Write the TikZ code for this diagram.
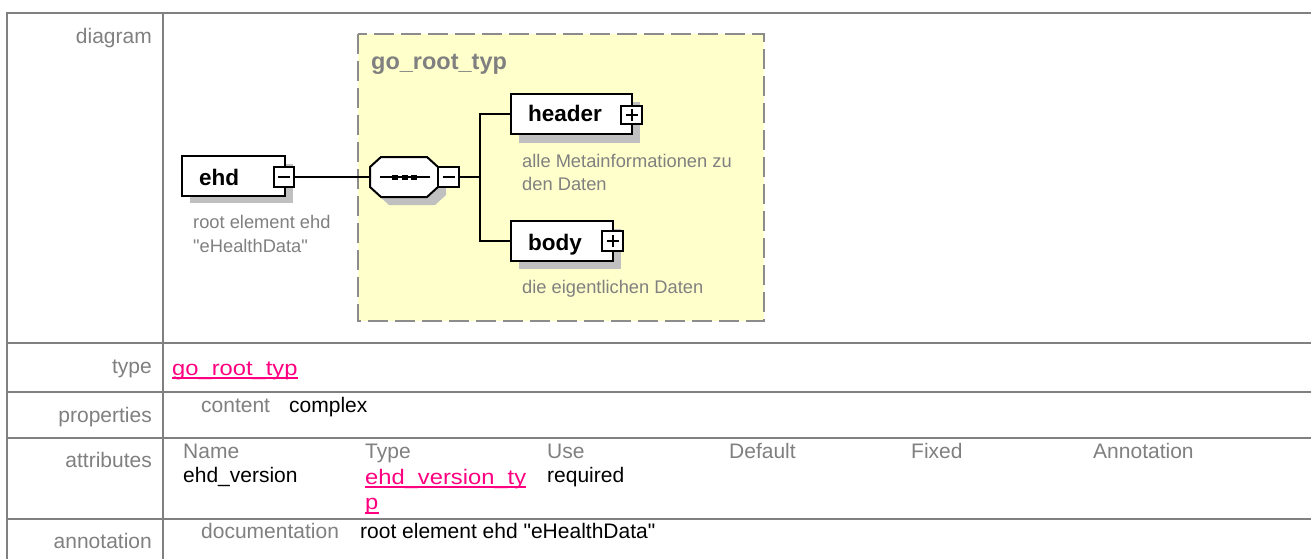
\documentclass[tikz,border=0pt]{standalone}
\usepackage{fontspec}
\setmainfont{Liberation Sans}
\newfontfamily\linkfont[FakeStretch=1.13]{Liberation Sans}
\usetikzlibrary{calc}
\definecolor{tline}{RGB}{128,128,128}
\definecolor{tgray}{RGB}{128,128,128}
\definecolor{tlink}{RGB}{255,0,128}
\definecolor{ylw}{RGB}{255,255,204}
\definecolor{shd}{RGB}{192,192,192}
\definecolor{dgray}{RGB}{140,140,140}
\begin{document}
\begin{tikzpicture}[x=1pt,y=-1pt,
  tabline/.style={draw=tline,line width=2pt,line cap=rect},
  rowlabel/.style={anchor=base east,inner sep=0,text=tgray,font=\fontsize{21}{25}\selectfont},
  graytxt/.style={anchor=base west,inner sep=0,text=tgray,font=\fontsize{21}{25}\selectfont},
  blacktxt/.style={anchor=base west,inner sep=0,text=black,font=\fontsize{21}{25}\selectfont},
  linktxt/.style={anchor=base west,inner sep=0,text=tlink,font=\linkfont\fontsize{21}{25}\selectfont},
  linkline/.style={draw=tlink,line width=1.5pt},
  elbox/.style={draw=black,line width=2pt,fill=white,inner sep=0},
  conn/.style={draw=black,line width=2pt},
  sym/.style={draw=black,line width=2pt},
  elname/.style={anchor=base west,inner sep=0,font=\fontsize{22.5}{27}\selectfont\bfseries},
  desc/.style={anchor=base west,inner sep=0,text=tgray,font=\fontsize{18.3}{22}\selectfont},
  shadow/.style={fill=shd,draw=none}
]
\useasboundingbox (0,0) rectangle (1311,559);
\fill[white] (0,0) rectangle (1311,559);

% ---------- table ----------
\draw[tabline] (7,13) -- (1320,13);
\draw[tabline] (7,13) -- (7,570);
\draw[tabline] (163,13) -- (163,570);
\foreach \yy in {343,392,438,519} \draw[tabline] (7,\yy) -- (1320,\yy);

\node[rowlabel] (l1) at (152,44) {diagram};
\node[rowlabel] (l2) at (152,373) {type};
\node[rowlabel] (l3) at (152,422) {properties};
\node[rowlabel] (l4) at (152,467) {attributes};
\node[rowlabel] (l5) at (152,548) {annotation};

\node[linktxt] (tylink) at (172,375) {go\_root\_typ};
\draw[linkline] ($(tylink.base west)+(0,3)$) -- ($(tylink.base east)+(0,3)$);

\node[graytxt] (pc) at (201,412) {content};
\node[blacktxt] (pv) at (289,412) {complex};

\node[graytxt] (h1) at (183,458) {Name};
\node[graytxt] (h2) at (365,458) {Type};
\node[graytxt] (h3) at (547,458) {Use};
\node[graytxt] (h4) at (729,458) {Default};
\node[graytxt] (h5) at (911,458) {Fixed};
\node[graytxt] (h6) at (1093,458) {Annotation};
\node[blacktxt] (a1) at (183,482) {ehd\_version};
\node[linktxt] (a2) at (365,484) {ehd\_version\_ty};
\draw[linkline] ($(a2.base west)+(0,3)$) -- ($(a2.base east)+(0,3)$);
\node[linktxt] (a2b) at (365,509) {p};
\draw[linkline] ($(a2b.base west)+(0,4)$) -- ($(a2b.base east)+(0,4)$);
\node[blacktxt] (a3) at (547,482) {required};

\node[graytxt] (an1) at (201,538) {documentation};
\node[blacktxt] (an2) at (360,538) {root element ehd \textquotedbl eHealthData\textquotedbl};

% ---------- diagram ----------
\draw[fill=ylw,draw=dgray,line width=2pt,dash pattern=on 20pt off 7pt] (358,34) rectangle (764,321);
\node[anchor=base west,inner sep=0,text=tgray,font=\fontsize{23.5}{28}\selectfont\bfseries] (ttl) at (371,70) {go\_root\_typ};

% shadows
\fill[shadow] (190,164) rectangle (293,203);
\fill[shadow] (378,175) -- (389,164) -- (435,164) -- (446,175) -- (446,195) -- (435,205) -- (389,205) -- (378,195) -- cycle;
\fill[shadow] (519,102) rectangle (640,143);
\fill[shadow] (519,229) rectangle (621,269);

% ehd element
\node[elbox,minimum width=103,minimum height=40] (ehd) at (233.5,176) {};
\node[elname] (ehdt) at (199,185) {ehd};
\node[elbox,minimum width=20,minimum height=20] (ehdm) at (284,177) {};
\draw[sym] ($(ehdm.center)+(-6,0)$) -- ($(ehdm.center)+(6,0)$);
\node[desc] (ehdd1) at (193,228) {root element ehd};
\node[desc] (ehdd2) at (193,252) {\textquotedbl eHealthData\textquotedbl};

% sequence compositor
\node[inner sep=0,minimum width=68,minimum height=40] (seq) at (404,177) {};
\draw[elbox] (370,167) -- (381,157) -- (427,157) -- (438,167) -- (438,187) -- (427,197) -- (381,197) -- (370,187) -- cycle;
\draw[sym] (380,177) -- (430,177);
\foreach \xx in {395,404.5,414} \fill[black] (\xx-3,174.5) rectangle (\xx+3,179.5);
\node[elbox,minimum width=21,minimum height=20] (seqm) at (448.5,177) {};
\draw[sym] ($(seqm.center)+(-6,0)$) -- ($(seqm.center)+(6,0)$);

% header / body
\node[elbox,minimum width=121,minimum height=40] (header) at (571.5,114) {};
\node[elname] (headert) at (528,122) {header};
\node[elbox,minimum width=21,minimum height=18] (headerp) at (631.5,115) {};
\draw[sym] ($(headerp.center)+(-6,0)$) -- ($(headerp.center)+(6,0)$);
\draw[sym] ($(headerp.center)+(0,-6)$) -- ($(headerp.center)+(0,6)$);
\node[desc] (hd1) at (522,167) {alle Metainformationen zu};
\node[desc] (hd2) at (522,190) {den Daten};

\node[elbox,minimum width=102,minimum height=40] (body) at (562,241) {};
\node[elname] (bodyt) at (528,250) {body};
\node[elbox,minimum width=21,minimum height=20] (bodyp) at (612.5,241) {};
\draw[sym] ($(bodyp.center)+(-6,0)$) -- ($(bodyp.center)+(6,0)$);
\draw[sym] ($(bodyp.center)+(0,-6)$) -- ($(bodyp.center)+(0,6)$);
\node[desc] (bd1) at (522,293) {die eigentlichen Daten};

% connectors
\coordinate (br) at (480,177);
\draw[conn] (ehdm.east) -- (seq.west);
\draw[conn] (seqm.east) -- (br);
\draw[conn] (header.west) -| (br) |- (body.west);
\end{tikzpicture}
\end{document}
